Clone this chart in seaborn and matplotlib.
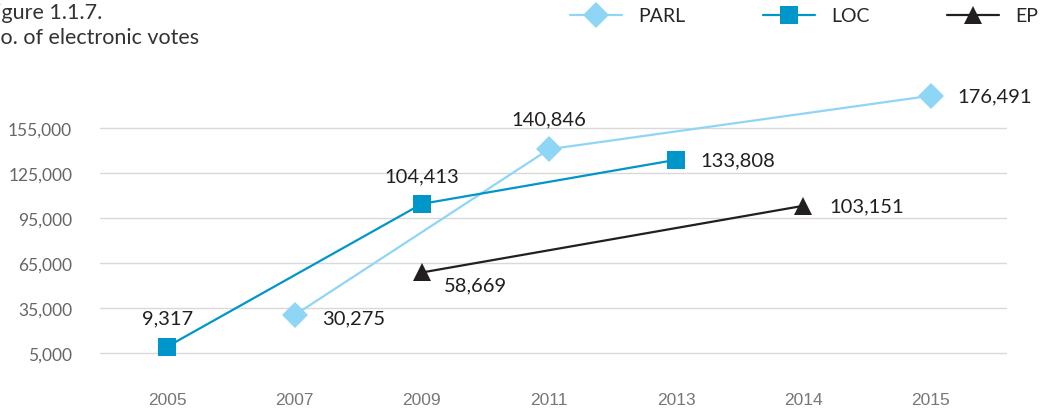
import pandas as pd
import matplotlib.pyplot as plt
import seaborn as sns

# Data
years = ["2005", "2007", "2009", "2011", "2013", "2014", "2015"]

parl_years = ["2007", "2011", "2015"]
parl_votes = [30275, 140846, 176491]

loc_years = ["2005", "2009", "2013"]
loc_votes = [9317, 104413, 133808]

ep_years = ["2009", "2014"]
ep_votes = [58669, 103151]

yticks = [5000, 35000, 65000, 95000, 125000, 155000]

series = ["PARL", "LOC", "EP"]
colors = {"PARL": "#8fd6f6", "LOC": "#0096c9", "EP": "#231f20"}
markers = {"PARL": "D", "LOC": "s", "EP": "^"}

# label placement per point: (dx px, dy px, ha)
label_pos = {
    "PARL": [(27, -3, "left"), (0, 30, "center"), (27, 0, "left")],
    "LOC": [(0, 29, "center"), (0, 28, "center"), (24, 0, "left")],
    "EP": [(22, -12, "left"), (26, 0, "left")],
}

rows = []
for name, yrs, vals in [("PARL", parl_years, parl_votes),
                        ("LOC", loc_years, loc_votes),
                        ("EP", ep_years, ep_votes)]:
    for yr, v in zip(yrs, vals):
        rows.append({"series": name, "year": yr, "pos": years.index(yr), "votes": v})
df = pd.DataFrame(rows)

sns.set_style("white")
plt.rcParams["font.family"] = ["Lato", "DejaVu Sans"]

fig = plt.figure(figsize=(10.51, 4.14), dpi=100)
ax = fig.add_axes([100 / 1051, 1 - 385 / 414, 907 / 1051, 301 / 414])

sns.lineplot(
    data=df, x="pos", y="votes",
    hue="series", style="series",
    hue_order=series, style_order=series,
    palette=colors, markers=markers, dashes=False,
    markersize=13.5, linewidth=1.6, markeredgewidth=0,
    errorbar=None, legend=False, ax=ax,
)

# diamond looks a bit smaller
for line, name in zip(ax.lines, series):
    if name == "PARL":
        line.set_markersize(13.2)

# data labels
for name in series:
    sub = df[df["series"] == name]
    for (_, r), (dx, dy, ha) in zip(sub.iterrows(), label_pos[name]):
        ax.annotate(f"{r['votes']:,}", (r["pos"], r["votes"]),
                    xytext=(dx * 0.72, dy * 0.72), textcoords="offset points",
                    ha=ha, va="center", fontsize=14.5, color="#231f20")

ax.set_xlim(-0.53, 6.6)
ax.set_ylim(-15667, 185000)
ax.set_xticks(range(len(years)))
ax.set_xticklabels(years, family=["Liberation Sans Narrow", "Liberation Sans", "DejaVu Sans"],
                   fontsize=12.5, color="#777777")
ax.set_yticks(yticks)
ax.set_yticklabels([f"{v:,}" for v in yticks], fontsize=12.5, color="#666666")
ax.tick_params(axis="x", length=0, pad=6)
ax.tick_params(axis="y", length=0, pad=20)
ax.set_xlabel("")
ax.set_ylabel("")
ax.grid(axis="y", color="#d9d9d9", linewidth=1)
ax.grid(axis="x", visible=False)
sns.despine(ax=ax, left=True, bottom=True)

fig.legend(handles=ax.lines[:3], labels=series,
           loc="center right", bbox_to_anchor=(1038 / 1051, 1 - 17 / 414),
           ncol=3, frameon=False, fontsize=14, handlelength=2.7,
           handletextpad=0.8, columnspacing=4.0, borderpad=0, borderaxespad=0)

fig.text(-16 / 1051, 1 - 3 / 414, "Figure 1.1.7.\nNo. of electronic votes",
         ha="left", va="top", fontsize=15.5, color="#333333", linespacing=1.3)

fig.savefig("out.png", dpi=100)
